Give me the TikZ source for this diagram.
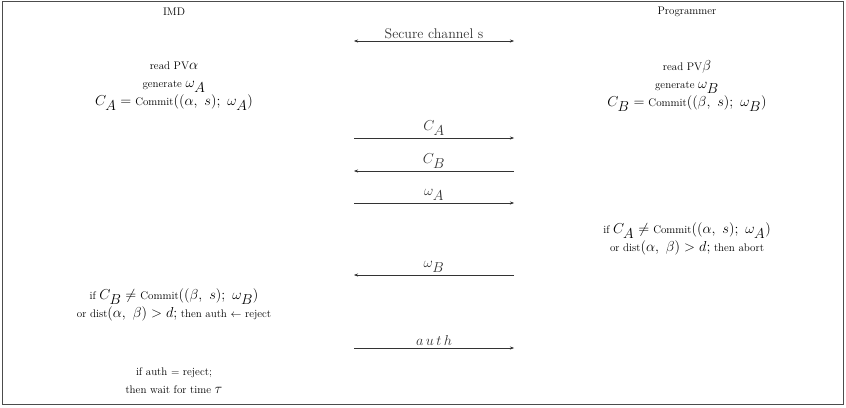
\documentclass[tikz,border=0pt]{standalone}
\usepackage{amssymb}
\usetikzlibrary{arrows.meta}

% small upright words next to the larger maths
\newcommand{\ptxt}[1]{{\fontsize{11}{18}\selectfont #1}}
% subscripts kept at full size
\newcommand{\lowsub}[1]{_{\textstyle #1}}

\begin{document}
\begin{tikzpicture}[x=1pt,y=-1pt,
  msg/.style={-{Stealth[length=4pt,width=3pt]},thin,black!80},
  act/.style={align=center,inner sep=0pt,font=\fontsize{15}{18}\selectfont},
  lbl/.style={above,inner sep=2pt,font=\fontsize{14}{16}\selectfont}]
% Frame
\draw[black!70,thick] (2.5,1.5) rectangle (843.5,404.5);
\useasboundingbox (0,0) rectangle (846,407);

% Parties
\node[act] (imd) at (174,12) {\ptxt{IMD}};
\node[act] (prog) at (687,12) {\ptxt{Programmer}};

% Message end points
\coordinate (sc-l) at (354,41);  \coordinate (sc-r) at (514,41);
\coordinate (ca-l) at (354,138); \coordinate (ca-r) at (514,138);
\coordinate (cb-l) at (354,171); \coordinate (cb-r) at (514,171);
\coordinate (wa-l) at (354,203); \coordinate (wa-r) at (514,203);
\coordinate (wb-l) at (354,275); \coordinate (wb-r) at (514,275);
\coordinate (au-l) at (354,348); \coordinate (au-r) at (514,348);

% Commitments
\node[act] (imdgen) at (174,86) {\ptxt{read PV}$\alpha$\\
  \ptxt{generate }$\omega\lowsub{A}$\\
  $C\lowsub{A} = {}$\ptxt{Commit}$((\alpha,\ s);\ \omega\lowsub{A})$};
\node[act] (proggen) at (687,86) {\ptxt{read PV}$\beta$\\
  \ptxt{generate }$\omega\lowsub{B}$\\
  $C\lowsub{B} = {}$\ptxt{Commit}$((\beta,\ s);\ \omega\lowsub{B})$};

% Checks
\node[act] (progchk) at (687,239) {\ptxt{if }$C\lowsub{A} \neq {}$\ptxt{Commit}$((\alpha,\ s);\ \omega\lowsub{A})$\\
  \ptxt{or dist}$(\alpha,\ \beta) > d;$\ptxt{ then abort}};
\node[act] (imdchk) at (174,305) {\ptxt{if }$C\lowsub{B} \neq {}$\ptxt{Commit}$((\beta,\ s);\ \omega\lowsub{B})$\\
  \ptxt{or dist}$(\alpha,\ \beta) > d;$\ptxt{ then auth $\leftarrow$ reject}};
\node[act] (imdwait) at (174,381) {\ptxt{if auth = reject;}\\
  \ptxt{then wait for time }$\tau$};

% Messages
\draw[msg,{Stealth[length=4pt,width=3pt]}-{Stealth[length=4pt,width=3pt]}] (sc-l) -- node[lbl,font=\fontsize{14}{16}\selectfont] (sc) {Secure channel s} (sc-r);
\draw[msg] (ca-l) -- node[lbl] (ca) {$C\lowsub{A}$} (ca-r);
\draw[msg] (cb-r) -- node[lbl] (cb) {$C\lowsub{B}$} (cb-l);
\draw[msg] (wa-l) -- node[lbl] (wa) {$\omega\lowsub{A}$} (wa-r);
\draw[msg] (wb-r) -- node[lbl] (wb) {$\omega\lowsub{B}$} (wb-l);
\draw[msg] (au-l) -- node[lbl] (au) {$a\,u\,t\,h$} (au-r);
\end{tikzpicture}
\end{document}
